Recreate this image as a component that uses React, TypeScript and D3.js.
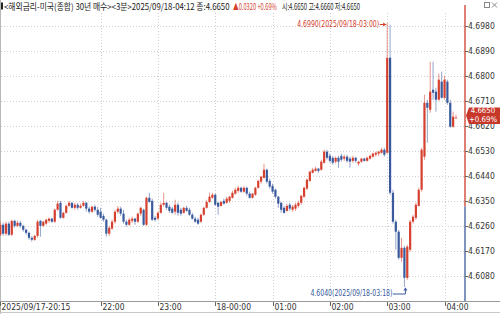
import React, { useLayoutEffect, useRef, useState } from 'react';
import * as d3 from 'd3';

// 3-minute candles from 2025/09/17 20:15 to 2025/09/18 04:12
const startTime = '2025-09-17T20:15:00';
const stepMinutes = 3;

const opens = [
  4.6228, 4.6264, 4.6232, 4.6268, 4.6228, 4.6278, 4.6260, 4.6271, 4.6260, 4.6246,
  4.6235, 4.6217, 4.6210, 4.6224, 4.6278, 4.6260, 4.6268, 4.6278, 4.6286, 4.6275,
  4.6318, 4.6343, 4.6289, 4.6307, 4.6332, 4.6343, 4.6325, 4.6336, 4.6325, 4.6332,
  4.6343, 4.6322, 4.6311, 4.6329, 4.6318, 4.6311, 4.6296, 4.6282, 4.6232, 4.6250,
  4.6275, 4.6311, 4.6322, 4.6304, 4.6275, 4.6264, 4.6278, 4.6286, 4.6275, 4.6304,
  4.6318, 4.6264, 4.6361, 4.6350, 4.6289, 4.6286, 4.6307, 4.6336, 4.6343, 4.6329,
  4.6322, 4.6311, 4.6336, 4.6318, 4.6307, 4.6325, 4.6318, 4.6300, 4.6286, 4.6282,
  4.6275, 4.6300, 4.6325, 4.6346, 4.6361, 4.6372, 4.6343, 4.6332, 4.6350, 4.6343,
  4.6350, 4.6361, 4.6376, 4.6386, 4.6397, 4.6383, 4.6397, 4.6376, 4.6361, 4.6372,
  4.6397, 4.6419, 4.6433, 4.6462, 4.6422, 4.6404, 4.6390, 4.6365, 4.6343, 4.6325,
  4.6314, 4.6336, 4.6318, 4.6322, 4.6332, 4.6343, 4.6365, 4.6394, 4.6422, 4.6451,
  4.6458, 4.6466, 4.6462, 4.6487, 4.6527, 4.6512, 4.6505, 4.6491, 4.6505, 4.6512,
  4.6502, 4.6509, 4.6502, 4.6494, 4.6505, 4.6484, 4.6491, 4.6502, 4.6494, 4.6502,
  4.6509, 4.6516, 4.6520, 4.6523, 4.6534, 4.6523, 4.6865, 4.6379, 4.6275, 4.6239,
  4.6145, 4.6181, 4.6073, 4.6174, 4.6275, 4.6289, 4.6332, 4.6390, 4.6509, 4.6703,
  4.6678, 4.6750, 4.6743, 4.6714, 4.6779, 4.6721, 4.6779, 4.6703, 4.6617, 4.6650,
];
const highs = [
  4.6275, 4.6271, 4.6275, 4.6275, 4.6282, 4.6282, 4.6278, 4.6278, 4.6264, 4.6250,
  4.6239, 4.6224, 4.6228, 4.6282, 4.6282, 4.6278, 4.6286, 4.6289, 4.6289, 4.6322,
  4.6350, 4.6350, 4.6311, 4.6336, 4.6350, 4.6346, 4.6343, 4.6343, 4.6340, 4.6350,
  4.6346, 4.6329, 4.6332, 4.6336, 4.6329, 4.6325, 4.6304, 4.6286, 4.6260, 4.6282,
  4.6318, 4.6332, 4.6329, 4.6318, 4.6282, 4.6289, 4.6293, 4.6289, 4.6307, 4.6329,
  4.6322, 4.6365, 4.6379, 4.6358, 4.6296, 4.6311, 4.6343, 4.6379, 4.6346, 4.6336,
  4.6329, 4.6354, 4.6343, 4.6325, 4.6329, 4.6332, 4.6325, 4.6307, 4.6293, 4.6289,
  4.6304, 4.6329, 4.6354, 4.6379, 4.6379, 4.6376, 4.6346, 4.6350, 4.6358, 4.6365,
  4.6368, 4.6386, 4.6397, 4.6404, 4.6401, 4.6404, 4.6401, 4.6383, 4.6379, 4.6401,
  4.6426, 4.6440, 4.6484, 4.6466, 4.6430, 4.6412, 4.6394, 4.6368, 4.6346, 4.6332,
  4.6340, 4.6343, 4.6336, 4.6343, 4.6350, 4.6372, 4.6401, 4.6430, 4.6458, 4.6469,
  4.6473, 4.6469, 4.6498, 4.6534, 4.6534, 4.6520, 4.6512, 4.6509, 4.6512, 4.6520,
  4.6516, 4.6516, 4.6509, 4.6512, 4.6509, 4.6494, 4.6505, 4.6505, 4.6509, 4.6516,
  4.6523, 4.6527, 4.6530, 4.6541, 4.6541, 4.6990, 4.6984, 4.6390, 4.6282, 4.6246,
  4.6217, 4.6188, 4.6192, 4.6282, 4.6300, 4.6343, 4.6397, 4.6541, 4.6732, 4.6714,
  4.6851, 4.6851, 4.6757, 4.6808, 4.6815, 4.6800, 4.6786, 4.6714, 4.6671, 4.6660,
];
const lows = [
  4.6224, 4.6224, 4.6224, 4.6224, 4.6224, 4.6253, 4.6257, 4.6253, 4.6239, 4.6228,
  4.6210, 4.6203, 4.6206, 4.6217, 4.6221, 4.6257, 4.6264, 4.6271, 4.6271, 4.6271,
  4.6314, 4.6286, 4.6286, 4.6304, 4.6329, 4.6322, 4.6318, 4.6318, 4.6322, 4.6329,
  4.6311, 4.6304, 4.6307, 4.6311, 4.6293, 4.6286, 4.6275, 4.6221, 4.6224, 4.6246,
  4.6268, 4.6304, 4.6296, 4.6268, 4.6257, 4.6260, 4.6271, 4.6264, 4.6271, 4.6296,
  4.6260, 4.6260, 4.6343, 4.6278, 4.6275, 4.6282, 4.6304, 4.6329, 4.6318, 4.6307,
  4.6304, 4.6300, 4.6296, 4.6296, 4.6304, 4.6311, 4.6296, 4.6282, 4.6271, 4.6264,
  4.6271, 4.6296, 4.6322, 4.6343, 4.6358, 4.6332, 4.6300, 4.6329, 4.6336, 4.6340,
  4.6343, 4.6358, 4.6372, 4.6379, 4.6379, 4.6379, 4.6368, 4.6358, 4.6358, 4.6368,
  4.6394, 4.6412, 4.6430, 4.6412, 4.6394, 4.6376, 4.6358, 4.6325, 4.6307, 4.6304,
  4.6311, 4.6314, 4.6311, 4.6314, 4.6325, 4.6336, 4.6361, 4.6390, 4.6419, 4.6448,
  4.6455, 4.6451, 4.6458, 4.6484, 4.6498, 4.6487, 4.6480, 4.6484, 4.6469, 4.6491,
  4.6494, 4.6487, 4.6469, 4.6487, 4.6487, 4.6476, 4.6487, 4.6491, 4.6491, 4.6498,
  4.6505, 4.6509, 4.6512, 4.6520, 4.6509, 4.6520, 4.6372, 4.6268, 4.6174, 4.6138,
  4.6131, 4.6040, 4.6066, 4.6167, 4.6268, 4.6282, 4.6329, 4.6383, 4.6498, 4.6559,
  4.6667, 4.6714, 4.6671, 4.6710, 4.6718, 4.6714, 4.6696, 4.6613, 4.6613, 4.6650,
];
const closes = [
  4.6264, 4.6232, 4.6268, 4.6228, 4.6278, 4.6260, 4.6271, 4.6260, 4.6246, 4.6235,
  4.6217, 4.6210, 4.6224, 4.6275, 4.6260, 4.6275, 4.6282, 4.6286, 4.6275, 4.6318,
  4.6340, 4.6289, 4.6307, 4.6332, 4.6343, 4.6325, 4.6336, 4.6325, 4.6332, 4.6343,
  4.6322, 4.6311, 4.6329, 4.6318, 4.6300, 4.6289, 4.6282, 4.6232, 4.6253, 4.6275,
  4.6311, 4.6322, 4.6304, 4.6275, 4.6264, 4.6282, 4.6286, 4.6275, 4.6304, 4.6325,
  4.6264, 4.6361, 4.6346, 4.6282, 4.6282, 4.6307, 4.6336, 4.6343, 4.6325, 4.6314,
  4.6307, 4.6336, 4.6307, 4.6304, 4.6325, 4.6314, 4.6300, 4.6286, 4.6275, 4.6268,
  4.6300, 4.6325, 4.6346, 4.6365, 4.6372, 4.6336, 4.6329, 4.6346, 4.6340, 4.6358,
  4.6365, 4.6379, 4.6390, 4.6397, 4.6383, 4.6397, 4.6376, 4.6361, 4.6376, 4.6397,
  4.6422, 4.6437, 4.6462, 4.6419, 4.6401, 4.6383, 4.6365, 4.6340, 4.6318, 4.6307,
  4.6332, 4.6322, 4.6329, 4.6336, 4.6343, 4.6368, 4.6397, 4.6426, 4.6455, 4.6462,
  4.6466, 4.6458, 4.6491, 4.6527, 4.6505, 4.6494, 4.6487, 4.6505, 4.6491, 4.6498,
  4.6509, 4.6494, 4.6491, 4.6505, 4.6494, 4.6491, 4.6502, 4.6494, 4.6505, 4.6512,
  4.6520, 4.6523, 4.6527, 4.6534, 4.6516, 4.6865, 4.6379, 4.6275, 4.6239, 4.6145,
  4.6181, 4.6073, 4.6185, 4.6275, 4.6293, 4.6336, 4.6390, 4.6534, 4.6703, 4.6685,
  4.6743, 4.6739, 4.6714, 4.6786, 4.6721, 4.6786, 4.6703, 4.6617, 4.6653, 4.6650,
];

const timeLabels = ['2025/09/17-20:15', '22:00', '23:00', '18-00:00', '01:00', '02:00', '03:00', '04:00'];
const timeLabelMinutes = [0, 105, 165, 225, 285, 345, 405, 465];

const priceTicks = [4.6080, 4.6170, 4.6260, 4.6350, 4.6440, 4.6530, 4.6620, 4.6710, 4.6800, 4.6890, 4.6980];

const prevClose = 4.6330;
const lastPrice = 4.6650;
const lastChangePct = '+0.69%';
const maxPrice = 4.6990;
const maxTime = '2025/09/18-03:00';
const minPrice = 4.6040;
const minTime = '2025/09/18-03:18';

const headerMain = '<해외금리-미국(종합) 30년 매수><3분>2025/09/18-04:12 종:4.6650';
const headerChange = '▲0.0320 +0.69%';
const headerOHL = '시:4.6650 고:4.6660 저:4.6650';

const RED = '#d5402f';
const BLUE = '#3a5a9e';
const NUM_FONT = "'Liberation Sans Narrow', 'DejaVu Sans Condensed', sans-serif";
const HDR_FONT = "'Liberation Sans Narrow', 'Noto Sans CJK KR', sans-serif";

// header layout: [left x, target width]
const headerSlots = [
  [4, 226],
  [233, 44],
  [282, 78],
];

export default function App() {
  const W = 500;
  const H = 314;
  const plotRight = 465;
  const axisY = 301;

  const hdrRefs = [useRef(null), useRef(null), useRef(null)];
  const [hdrScale, setHdrScale] = useState([1, 1, 1]);
  useLayoutEffect(() => {
    const s = hdrRefs.map((r, k) => {
      const el = r.current as any;
      const w = el && el.getComputedTextLength ? el.getComputedTextLength() : 0;
      return w > 0 ? Math.min(1, headerSlots[k][1] / w) : 1;
    });
    setHdrScale(s);
  }, []);

  const n = closes.length;
  const x = d3.scaleLinear().domain([0, (n - 1) * stepMinutes]).range([0.3, 456]);
  const y = d3.scaleLinear().domain([4.6040, 4.6990]).range([287, 23]);

  const t0 = new Date(startTime);
  const candles = d3.range(n).map((i) => ({
    t: d3.timeMinute.offset(t0, i * stepMinutes),
    m: i * stepMinutes,
    o: opens[i],
    h: highs[i],
    l: lows[i],
    c: closes[i],
  }));

  const maxIdx = d3.maxIndex(highs);
  const minIdx = d3.minIndex(lows);
  const xMax = x(candles[maxIdx].m);
  const xMin = x(candles[minIdx].m);
  const yPrev = y(prevClose);
  const yLast = y(lastPrice);

  const headerTexts = [headerMain, headerChange, headerOHL];
  const headerFills = ['#1a1a1a', RED, '#1a1a1a'];

  return (
    <div style={{ position: 'absolute', left: 0, top: 0, width: W, height: H, background: '#fff' }}>
      <svg width={W} height={H} style={{ display: 'block' }}>
        <rect x={0} y={0} width={W} height={H} fill="#fff" />
        {/* left border */}
        <line x1={0.5} x2={0.5} y1={0} y2={H} stroke="#b8b8b8" />

        {/* horizontal grid */}
        {priceTicks.map((p) => (
          <line key={'hg' + p} x1={1} x2={plotRight} y1={Math.round(y(p)) + 0.5} y2={Math.round(y(p)) + 0.5}
            stroke="#cfcfcf" strokeDasharray="1,2" />
        ))}
        {/* vertical grid */}
        {timeLabelMinutes.slice(1).map((m) => (
          <line key={'vg' + m} x1={Math.round(x(m)) + 0.5} x2={Math.round(x(m)) + 0.5} y1={13} y2={axisY}
            stroke="#cfcfcf" strokeDasharray="1,2" />
        ))}

        {/* candles */}
        {candles.map((d, i) => {
          const up = d.c >= d.o;
          const col = up ? RED : BLUE;
          const cx = x(d.m);
          const top = y(Math.max(d.o, d.c));
          const bot = y(Math.min(d.o, d.c));
          return (
            <g key={'c' + i}>
              <line x1={cx} x2={cx} y1={y(d.h)} y2={y(d.l)} stroke={col} strokeOpacity={0.55} strokeWidth={1} />
              <rect x={cx - 1.1} y={top} width={2.2} height={Math.max(1, bot - top)} fill={col} />
            </g>
          );
        })}

        {/* max annotation */}
        <text x={xMax - 90} y={y(maxPrice) + 1.5} fontFamily={NUM_FONT} fontSize={8} fill={RED}
          dominantBaseline="middle" textLength={82} lengthAdjust="spacingAndGlyphs">{`${maxPrice.toFixed(4)}(${maxTime})`}</text>
        <line x1={xMax - 7.5} x2={xMax - 1} y1={y(maxPrice) + 1.5} y2={y(maxPrice) + 1.5} stroke={RED} strokeWidth={1} />
        <path d={`M${xMax - 1},${y(maxPrice) + 1.5} l-3,-2 v4 z`} fill={RED} />

        {/* min annotation */}
        <text x={xMin - 94} y={y(minPrice) + 6.5} fontFamily={NUM_FONT} fontSize={8} fill={BLUE}
          dominantBaseline="middle" textLength={82} lengthAdjust="spacingAndGlyphs">{`${minPrice.toFixed(4)}(${minTime})`}</text>
        <path d={`M${xMin - 11.5},${y(minPrice) + 7} H${xMin + 1} V${y(minPrice) + 1}`} stroke={BLUE} fill="none" strokeWidth={1} />
        <path d={`M${xMin + 1},${y(minPrice) + 0.5} l-2,3 h4 z`} fill={BLUE} />

        {/* right axis */}
        <line x1={plotRight} x2={plotRight} y1={5} y2={yPrev} stroke="#cc3b2c" strokeWidth={1.3} />
        <line x1={plotRight} x2={plotRight} y1={yPrev} y2={axisY} stroke="#3b5a9a" strokeWidth={1.3} />
        {priceTicks.map((p) => (
          <g key={'yt' + p}>
            <line x1={plotRight} x2={plotRight + 3} y1={Math.round(y(p)) + 0.5} y2={Math.round(y(p)) + 0.5} stroke="#666" />
            <text x={plotRight + 3} y={y(p) + 0.5} fontFamily={NUM_FONT} fontSize={8.5} fill="#333"
              dominantBaseline="middle">{p.toFixed(4)}</text>
          </g>
        ))}

        {/* current price box */}
        <path d={`M${plotRight + 1},${yLast - 2} L${plotRight + 4},${yLast - 10} H${W} V${yLast + 6.5} H${plotRight + 4} Z`} fill="#c7372a" />
        <text x={483} y={yLast - 6.3} fontFamily={NUM_FONT} fontSize={7.8} fill="#fff" textAnchor="middle"
          dominantBaseline="middle">{lastPrice.toFixed(4)}</text>
        <text x={483} y={yLast + 2.3} fontFamily={NUM_FONT} fontSize={7.8} fill="#fff" textAnchor="middle"
          dominantBaseline="middle">{lastChangePct}</text>

        {/* x axis */}
        <line x1={0} x2={W} y1={axisY + 0.5} y2={axisY + 0.5} stroke="#9a9a9a" />
        <line x1={0} x2={W} y1={312.5} y2={312.5} stroke="#c8c8c8" />
        {timeLabels.map((lab, k) => {
          const tx = Math.round(x(timeLabelMinutes[k])) + 0.5;
          return (
            <g key={'xl' + k}>
              <line x1={tx} x2={tx} y1={axisY + 1} y2={axisY + 5} stroke="#666" />
              <text x={tx + 1} y={310} fontFamily={NUM_FONT} fontSize={8.5} fill="#333">{lab}</text>
            </g>
          );
        })}

        {/* header */}
        <rect x={1} y={2.5} width={2} height={7} fill="#222" />
        {headerTexts.map((t, k) => (
          <g key={'hd' + k} transform={`translate(${headerSlots[k][0]},10) scale(${hdrScale[k]},1)`}>
            <text ref={hdrRefs[k]} x={0} y={0} fontFamily={HDR_FONT} fontSize={9} fill={headerFills[k]}>{t}</text>
          </g>
        ))}

        {/* window icon */}
        <rect x={484.5} y={2.5} width={5} height={5} fill="none" stroke="#888" />
        <path d="M492,2.5 L497,7.5 M497,2.5 L492,7.5" stroke="#888" />
      </svg>
    </div>
  );
}
